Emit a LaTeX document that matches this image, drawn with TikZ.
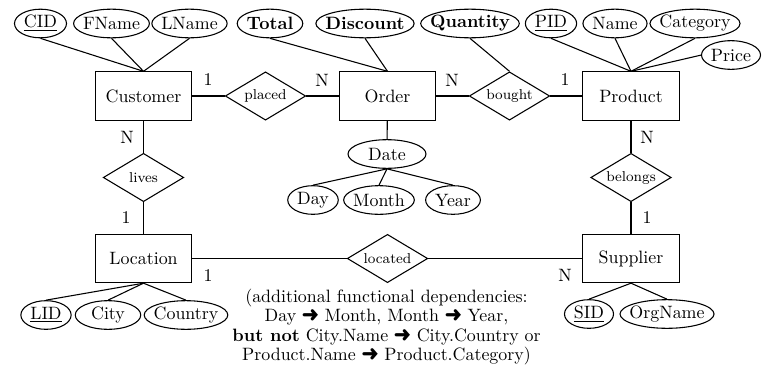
\documentclass[tikz,border=0pt]{standalone}
\usepackage{pifont}
\usepackage{tikz}
\usetikzlibrary{positioning,shapes.geometric,calc}

\newcommand{\fdarrow}{\ding{220}}

\begin{document}
\begin{tikzpicture}[x=0.559pt,y=-0.559pt,semithick,
  entity/.style={draw,rectangle,minimum width=54pt,minimum height=27pt},
  relation/.style={draw,diamond,aspect=1.667,inner sep=1pt,minimum width=45pt,minimum height=27pt,font=\footnotesize},
  attr/.style={inner xsep=5pt,inner ysep=0pt,minimum height=16pt},
  card/.style={inner sep=1pt}]
  \useasboundingbox (0,0) rectangle (762,373);

  % Entities
  \node[entity] (cust) at (143.5,96) {Customer};
  \node[entity] (order) at (387.5,96) {Order};
  \node[entity] (prod) at (631,96) {Product};
  \node[entity] (loc) at (143.5,258.5) {Location};
  \node[entity] (supp) at (631,258.5) {Supplier};
  % Relationships
  \node[relation] (placed) at (265.5,96) {placed};
  \node[relation] (bought) at (509.5,96) {bought};
  \node[relation] (lives) at (143.5,177.5) {lives};
  \node[relation] (belongs) at (631,177.5) {belongs};
  \node[relation] (located) at (387.5,258.5) {located};

  % Attributes, top row
  \node[attr] (cid) at (40.5,23.5) {\underline{CID}};
  \node[attr] (fname) at (111.5,23.5) {FName};
  \node[attr] (lname) at (189.5,23.5) {LName};
  \node[attr] (total) at (270,23.5) {\textbf{Total}};
  \node[attr] (disc) at (365,23.5) {\textbf{Discount}};
  \node[attr] (qty) at (470,23.5) {\textbf{Quantity}};
  \node[attr] (pid) at (551,23.5) {\underline{PID}};
  \node[attr] (pname) at (615,23.5) {Name};
  \node[attr] (cat) at (695,23.5) {Category};
  \node[attr] (price) at (731,55) {Price};
  % Date and its parts
  \node[attr,minimum width=43pt] (date) at (387,154) {Date};
  \node[attr] (day) at (313,200) {Day};
  \node[attr] (month) at (379,200) {Month};
  \node[attr] (year) at (453,200) {Year};
  % Attributes, bottom row
  \node[attr] (lid) at (46,315) {\underline{LID}};
  \node[attr,minimum width=36pt] (city) at (108,315) {City};
  \node[attr] (country) at (186,315) {Country};
  \node[attr] (sid) at (589,314) {\underline{SID}};
  \node[attr] (org) at (667,314) {OrgName};

  \foreach \a in {cid,fname,lname,total,disc,qty,pid,pname,cat,price,date,day,month,year,lid,city,country,sid,org}
    \draw let \p1=($(\a.east)-(\a.center)$) in (\a.center) ellipse [x radius=\x1, y radius=8pt];

  % Relationship lines
  \draw (cust) -- (placed) -- (order) -- (bought) -- (prod);
  \draw (cust) -- (lives) -- (loc) -- (located) -- (supp) -- (belongs) -- (prod);
  \draw (order) -- (date);

  % Attribute lines
  \foreach \a in {cid,fname,lname} \draw (cust.north) -- (\a.south);
  \foreach \a in {total,disc} \draw (order.north) -- (\a.south);
  \draw (bought.north) -- (qty.south);
  \foreach \a in {pid,pname,cat} \draw (prod.north) -- (\a.south);
  \draw (prod.north) -- (price.west);
  \foreach \a in {day,month,year} \draw (date.south) -- (\a.north);
  \foreach \a in {lid,city,country} \draw (loc.south) -- (\a.north);
  \foreach \a in {sid,org} \draw (supp.south) -- (\a.north);

  % Cardinalities
  \node[card] (c1) at (208,80) {1};
  \node[card] (n1) at (322,80) {N};
  \node[card] (n2) at (452,80) {N};
  \node[card] (c2) at (565,80) {1};
  \node[card] (n3) at (127,137) {N};
  \node[card] (c3) at (126,218) {1};
  \node[card] (n4) at (647,137) {N};
  \node[card] (c4) at (647,218) {1};
  \node[card] (c5) at (208,275.5) {1};
  \node[card] (n5) at (565,275.5) {N};

  \node[align=center,font={\linespread{0.91}\selectfont}] (fdnote) at (386.5,327)
    {(additional functional dependencies:\\
     Day \fdarrow{} Month, Month \fdarrow{} Year,\\
     \textbf{but not} City.Name \fdarrow{} City.Country or\\
     Product.Name \fdarrow{} Product.Category)};
\end{tikzpicture}
\end{document}
